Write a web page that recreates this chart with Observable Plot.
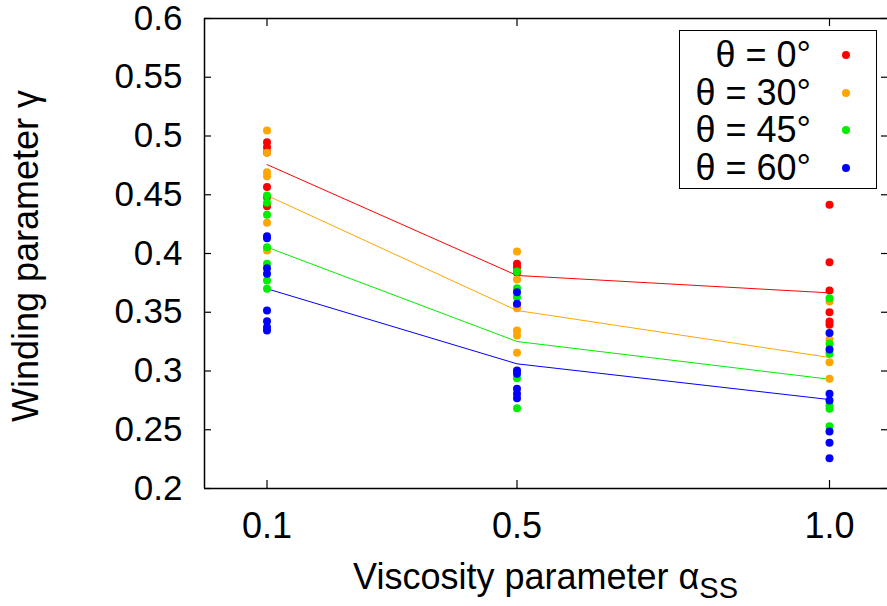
<!DOCTYPE html>
<html>
<head>
<meta charset="utf-8">
<script src="https://cdn.jsdelivr.net/npm/d3@7"></script>
<script src="https://cdn.jsdelivr.net/npm/@observablehq/plot@0.6"></script>
<style>
  body { margin: 0; background: #fff; }
  #wrap { position: relative; width: 887px; height: 606px; font-family: "Liberation Sans", Arial, sans-serif; }
  #legend { position: absolute; left: 679px; top: 30px; width: 198px; height: 159px; border: 1.5px solid #000; background: #fff; box-sizing: border-box; }
  .row { position: absolute; left: 0; height: 38px; line-height: 38px; font-size: 36px; color: #000; }
  .row .lab { position: absolute; right: 0; white-space: nowrap; }
  .row .dot { position: absolute; width: 8px; height: 8px; border-radius: 50%; top: 15px; }
</style>
</head>
<body>
<div id="wrap"></div>
<script>
// ---- data ----
const alphas = [0.1, 0.5, 1.0];
const seriesNames = ["θ = 0°", "θ = 30°", "θ = 45°", "θ = 60°"];
const seriesColors = ["#ff0000", "#ffa500", "#00ee00", "#0000ff"];

// scattered runs, one list per alpha value
const theta0 = [
  [0.4947, 0.4905, 0.486, 0.4565, 0.4479, 0.4403],
  [0.3912, 0.3884, 0.3836, 0.356],
  [0.4414, 0.3926, 0.3685, 0.35, 0.3421, 0.3393]
];
const theta30 = [
  [0.5047, 0.4857, 0.4692, 0.4658, 0.4261, 0.4026],
  [0.4017, 0.3779, 0.3534, 0.3345, 0.3302, 0.3155],
  [0.3591, 0.3268, 0.3075, 0.2934]
];
const theta45 = [
  [0.4494, 0.4431, 0.4329, 0.4054, 0.3912, 0.377, 0.370],
  [0.3847, 0.3705, 0.3628, 0.2939, 0.2683],
  [0.362, 0.3231, 0.3146, 0.2706, 0.2678, 0.253]
];
const theta60 = [
  [0.4147, 0.413, 0.3875, 0.3827, 0.3515, 0.3424, 0.3373, 0.3345],
  [0.3671, 0.3572, 0.3004, 0.2976, 0.2848, 0.2806, 0.2769],
  [0.3324, 0.3183, 0.2806, 0.2749, 0.2485, 0.2389, 0.2258]
];
// mean curves
const mean0 = [0.4757, 0.3813, 0.3665];
const mean30 = [0.4494, 0.3515, 0.3115];
const mean45 = [0.4054, 0.3251, 0.2930];
const mean60 = [0.3700, 0.3061, 0.2757];

const yTicks = [0.2, 0.25, 0.3, 0.35, 0.4, 0.45, 0.5, 0.55, 0.6];
const yTickLabels = ["0.2", "0.25", "0.3", "0.35", "0.4", "0.45", "0.5", "0.55", "0.6"];
const xTicks = [0.1, 0.5, 1.0];
const xTickLabels = ["0.1", "0.5", "1.0"];

// ---- tables ----
const allRuns = [theta0, theta30, theta45, theta60];
const allMeans = [mean0, mean30, mean45, mean60];
const points = [];
allRuns.forEach((s, si) => s.forEach((vals, ai) => vals.forEach(v =>
  points.push({series: seriesNames[si], alpha: alphas[ai], gamma: v}))));
const means = [];
allMeans.forEach((m, si) => m.forEach((v, ai) =>
  means.push({series: seriesNames[si], alpha: alphas[ai], gamma: v})));

const W = 887, H = 606, mL = 204, mR = 0, mT = 18, mB = 118;
const fw = W - mL - mR, fh = H - mT - mB;

const plot = Plot.plot({
  width: W, height: H,
  marginLeft: mL, marginRight: mR, marginTop: mT, marginBottom: mB,
  style: {fontFamily: "Liberation Sans, Arial, sans-serif", fontSize: "36px", background: "#fff", color: "#000", overflow: "visible"},
  x: {domain: [0, fw / 625], axis: null},
  y: {domain: [0.2, 0.6], axis: null},
  color: {domain: seriesNames, range: seriesColors},
  marks: [
    Plot.line(means, {x: "alpha", y: "gamma", z: "series", stroke: "series", strokeWidth: 1}),
    Plot.dot(points, {x: "alpha", y: "gamma", fill: "series", r: 4, stroke: null}),
    Plot.ruleY([0.2, 0.6], {stroke: "#000", strokeWidth: 1.5}),
    Plot.ruleX([0], {stroke: "#000", strokeWidth: 1.5}),
    Plot.tickY(yTicks, {y: d => d, insetRight: fw - 7, stroke: "#000", strokeWidth: 1.2}),
    Plot.tickY(yTicks, {y: d => d, insetLeft: fw - 6, stroke: "#000", strokeWidth: 1.2}),
    Plot.tickX(xTicks, {x: d => d, insetTop: fh - 8, stroke: "#000", strokeWidth: 1.2}),
    Plot.tickX(xTicks, {x: d => d, insetBottom: fh - 8, stroke: "#000", strokeWidth: 1.2}),
    Plot.axisY(yTicks, {tickSize: 0, tickPadding: 22, tickFormat: (d, i) => yTickLabels[i], label: null, fontSize: 35}),
    Plot.axisX(xTicks, {tickSize: 0, tickPadding: 24, tickFormat: (d, i) => xTickLabels[i], label: null, fontSize: 36})
  ]
});

const wrap = document.getElementById("wrap");
wrap.appendChild(plot);

// axis titles
const svg = d3.select(plot);
const xt = svg.append("text")
  .attr("x", mL + fw / 2).attr("y", 589)
  .attr("text-anchor", "middle")
  .attr("font-size", 36).attr("fill", "#000");
xt.append("tspan").text("Viscosity parameter α");
xt.append("tspan").attr("font-size", 29).attr("dy", 9).text("SS");

svg.append("text")
  .attr("transform", `translate(38,${mT + fh / 2 + 3}) rotate(-90)`)
  .attr("text-anchor", "middle")
  .attr("font-size", 36).attr("fill", "#000")
  .text("Winding parameter γ");

// legend
const legend = document.createElement("div");
legend.id = "legend";
seriesNames.forEach((name, i) => {
  const row = document.createElement("div");
  row.className = "row";
  row.style.top = (5 + i * 37.5) + "px";
  row.style.width = "100%";
  const lab = document.createElement("span");
  lab.className = "lab";
  lab.style.right = "65px";
  lab.textContent = name;
  const dot = document.createElement("span");
  dot.className = "dot";
  dot.style.left = "162px";
  dot.style.background = seriesColors[i];
  row.appendChild(lab);
  row.appendChild(dot);
  legend.appendChild(row);
});
wrap.appendChild(legend);
</script>
</body>
</html>
